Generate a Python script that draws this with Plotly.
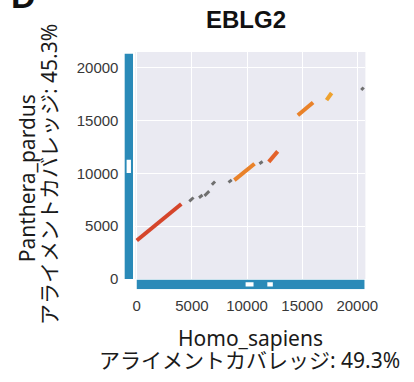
import plotly.graph_objects as go

# ---------------- data ----------------
x_species = "Homo_sapiens"
y_species = "Panthera_pardus"
x_coverage = 49.3
y_coverage = 45.3
gene = "EBLG2"
panel = "D"

x_length = 20650          # length of Homo_sapiens sequence
y_length = 21300          # length of Panthera_pardus sequence
x_gap_start = [9870, 11840]
x_gap_end = [10590, 12340]
y_gap_start = [10030]
y_gap_end = [11270]

seg_x0 = [0, 4760, 5640, 6140, 6810, 8320, 8850, 11120, 11970, 14610, 17210, 20360]
seg_x1 = [4040, 5150, 5960, 6570, 7100, 8610, 10680, 11410, 12780, 15990, 17670, 20580]
seg_y0 = [3640, 7340, 7690, 7870, 8920, 9140, 9350, 10900, 11080, 15490, 16920, 17870]
seg_y1 = [7100, 7710, 7940, 8310, 9230, 9380, 10900, 11110, 12070, 16700, 17590, 18120]
seg_group = ["red", "gray", "gray", "gray", "gray", "gray", "orange", "gray",
             "darkorange", "orange", "lightorange", "gray"]

tick_vals = [0, 5000, 10000, 15000, 20000]
tick_text = ["0", "5000", "10000", "15000", "20000"]

# ---------------- styles ----------------
group_color = {"red": "#d5452b", "orange": "#e9822a", "darkorange": "#e3622a",
               "lightorange": "#eea22f", "gray": "#6f6f6f"}
group_width = {"red": 4, "orange": 4, "darkorange": 4, "lightorange": 4, "gray": 3}
strip_blue = "#2a8ab8"
bg = "#EAEAF2"
W, H = 414, 382

def px_x(p):
    return p / W

def px_y(p):
    return 1 - p / H

fig = go.Figure()

for g in ["red", "orange", "darkorange", "lightorange", "gray"]:
    xs, ys = [], []
    for a, b, c, d, gg in zip(seg_x0, seg_x1, seg_y0, seg_y1, seg_group):
        if gg == g:
            xs += [a, b, None]
            ys += [c, d, None]
    fig.add_trace(go.Scatter(x=xs, y=ys, mode="lines", xaxis="x", yaxis="y",
                             line=dict(color=group_color[g], width=group_width[g]),
                             showlegend=False, hoverinfo="skip"))

# left strip (Panthera_pardus sequence)
fig.add_trace(go.Bar(x=[0], y=[y_length], base=[0], width=[1], orientation="v",
                     marker=dict(color=strip_blue, line=dict(width=0)),
                     xaxis="x2", yaxis="y2", showlegend=False, hoverinfo="skip"))
fig.add_trace(go.Bar(x=[0] * len(y_gap_start),
                     y=[e - s for s, e in zip(y_gap_start, y_gap_end)],
                     base=y_gap_start, width=[0.5] * len(y_gap_start), orientation="v",
                     marker=dict(color="white", line=dict(width=0)),
                     xaxis="x2", yaxis="y2", showlegend=False, hoverinfo="skip"))
# bottom strip (Homo_sapiens sequence)
fig.add_trace(go.Bar(y=[0], x=[x_length], base=[0], width=[1], orientation="h",
                     marker=dict(color=strip_blue, line=dict(width=0)),
                     xaxis="x3", yaxis="y3", showlegend=False, hoverinfo="skip"))
fig.add_trace(go.Bar(y=[0] * len(x_gap_start),
                     x=[e - s for s, e in zip(x_gap_start, x_gap_end)],
                     base=x_gap_start, width=[0.45] * len(x_gap_start), orientation="h",
                     marker=dict(color="white", line=dict(width=0)),
                     xaxis="x3", yaxis="y3", showlegend=False, hoverinfo="skip"))

xr = [-131, 20733]
yr = [0, 21480]
main_xd = [px_x(137.3), px_x(376)]
main_yd = [px_y(285), px_y(53)]
tickfont = dict(family="Liberation Sans, Arial", size=15, color="#383838")

fig.update_layout(
    width=W, height=H, autosize=False,
    margin=dict(l=0, r=0, t=0, b=0),
    paper_bgcolor="white", plot_bgcolor="white",
    barmode="overlay",
    xaxis=dict(domain=main_xd, range=xr, anchor="y", tickvals=tick_vals,
               showticklabels=False, showgrid=True, gridcolor="white", gridwidth=1.3,
               zeroline=False, showline=False, ticks=""),
    yaxis=dict(domain=main_yd, range=yr, anchor="x", tickvals=tick_vals,
               showticklabels=False, showgrid=True, gridcolor="white", gridwidth=1.3,
               zeroline=False, showline=False, ticks=""),
    xaxis2=dict(domain=[px_x(126), px_x(135)], range=[-0.5, 0.5], anchor="y2",
                visible=False),
    yaxis2=dict(domain=main_yd, range=yr, anchor="x2", tickvals=tick_vals,
                ticktext=tick_text, showgrid=False, zeroline=False, showline=False,
                ticks="outside", ticklen=2, tickcolor="rgba(0,0,0,0)",
                tickfont=tickfont),
    xaxis3=dict(domain=main_xd, range=xr, anchor="y3", tickvals=tick_vals,
                ticktext=tick_text, showgrid=False, zeroline=False, showline=False,
                ticks="outside", ticklen=3, tickcolor="rgba(0,0,0,0)",
                tickfont=tickfont),
    yaxis3=dict(domain=[px_y(295.5), px_y(285.5)], range=[-0.5, 0.5], anchor="x3",
                visible=False),
    shapes=[dict(type="rect", xref="x domain", yref="y domain", x0=0, x1=1, y0=0, y1=1,
                 fillcolor=bg, line=dict(width=0), layer="below")],
)

title_font = dict(family="Noto Sans, Noto Sans CJK JP", size=21, color="#1a1a1a")
ann = [
    dict(text=f"<b>{gene}</b>", x=px_x(252.5), y=px_y(20), xref="paper", yref="paper",
         xanchor="center", yanchor="middle", showarrow=False,
         font=dict(family="Liberation Sans, Arial", size=24, color="#111")),
    dict(text=f"<b>{panel}</b>", x=px_x(6), y=px_y(-4), xref="paper", yref="paper",
         xanchor="left", yanchor="middle", showarrow=False,
         font=dict(family="Liberation Sans, Arial", size=34, color="#111")),
    dict(text=x_species, x=px_x(256.5), y=px_y(345), xref="paper", yref="paper",
         xanchor="center", yanchor="middle", showarrow=False, font=title_font),
    dict(text=f"アライメントカバレッジ: {x_coverage}%", x=px_x(256), y=px_y(368),
         xref="paper", yref="paper", xanchor="center", yanchor="middle",
         showarrow=False, font=title_font),
    dict(text=y_species, x=px_x(24.5), y=px_y(182.5), xref="paper", yref="paper",
         xanchor="center", yanchor="middle", showarrow=False, textangle=-90,
         font=title_font),
    dict(text=f"アライメントカバレッジ: {y_coverage}%", x=px_x(47.5), y=px_y(178),
         xref="paper", yref="paper", xanchor="center", yanchor="middle",
         showarrow=False, textangle=-90, font=title_font),
]
fig.update_layout(annotations=ann)

fig.write_html("out.html")
